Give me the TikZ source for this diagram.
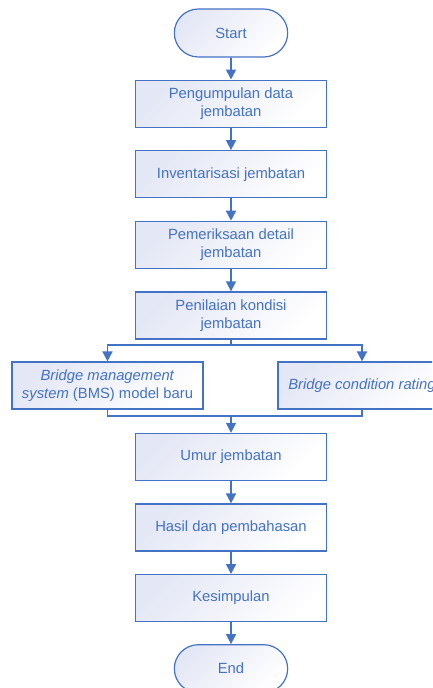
\documentclass[tikz,border=0pt]{standalone}
\usepackage{fontspec}
\setmainfont{Liberation Sans}
\usetikzlibrary{arrows.meta,positioning,shapes.misc}
\definecolor{flowblue}{HTML}{4472C4}
\definecolor{flowfill}{HTML}{E4E7F5}

\begin{document}
\begin{tikzpicture}[x=1pt,y=1pt,-{Triangle[width=10pt,length=10pt]},node distance=70.6pt,line width=1.6pt,draw=flowblue,
  every node/.style={font=\fontsize{14.8}{18}\selectfont,text=flowblue,align=center},
  stepbox/.style={rectangle,draw=flowblue,line width=1.2pt,minimum width=191pt,minimum height=47pt,top color=flowfill,bottom color=white,shading angle=45},
  term/.style={rounded rectangle,draw=flowblue,line width=1.2pt,minimum width=120pt,minimum height=48pt,top color=flowfill,bottom color=white,shading angle=45}]
\useasboundingbox (0,0) rectangle (432,-688);
\clip (0,0) rectangle (432,-688);
%\tikzstyle{every path}=[flowblue]
\node[term] (start) at (231,-33) {Start};
\node[stepbox] (kumpul) [below of=start] {Pengumpulan data\\jembatan};
\node[stepbox] (invent) [below of=kumpul] {Inventarisasi jembatan};
\node[stepbox] (periksa) [below of=invent] {Pemeriksaan detail\\jembatan};
\node[stepbox] (nilai) [below of=periksa] {Penilaian kondisi\\jembatan};
\node[stepbox] (bms) at (107.5,-385.5) {\textit{Bridge management}\\\textit{system} (BMS) model baru};
\node[stepbox,minimum width=168pt] (bcr) at (362,-385.5) {\textit{Bridge condition rating}};
\node[stepbox] (umur) [below of=nilai,node distance=141.5pt] {Umur jembatan};
\node[stepbox] (hasil) [below of=umur] {Hasil dan pembahasan};
\node[stepbox] (simpul) [below of=hasil] {Kesimpulan};
\node[term] (end) [below of=simpul] {End};
\coordinate (split) at (231,-345);
\coordinate (merge) at (231,-416);

\draw[flowblue] (start) -- (kumpul);
\draw[flowblue] (kumpul) -- (invent);
\draw[flowblue] (invent) -- (periksa);
\draw[flowblue] (periksa) -- (nilai);
\draw[flowblue,-] (nilai) -- (split);
\draw[flowblue] (split) -| (bms);
\draw[flowblue] (split) -| (bcr);
\draw[flowblue,-] (bms) |- (merge);
\draw[flowblue,-] (bcr) |- (merge);
\draw[flowblue] (merge) -- (umur);
\draw[flowblue] (umur) -- (hasil);
\draw[flowblue] (hasil) -- (simpul);
\draw[flowblue] (simpul) -- (end);
\end{tikzpicture}
\end{document}
